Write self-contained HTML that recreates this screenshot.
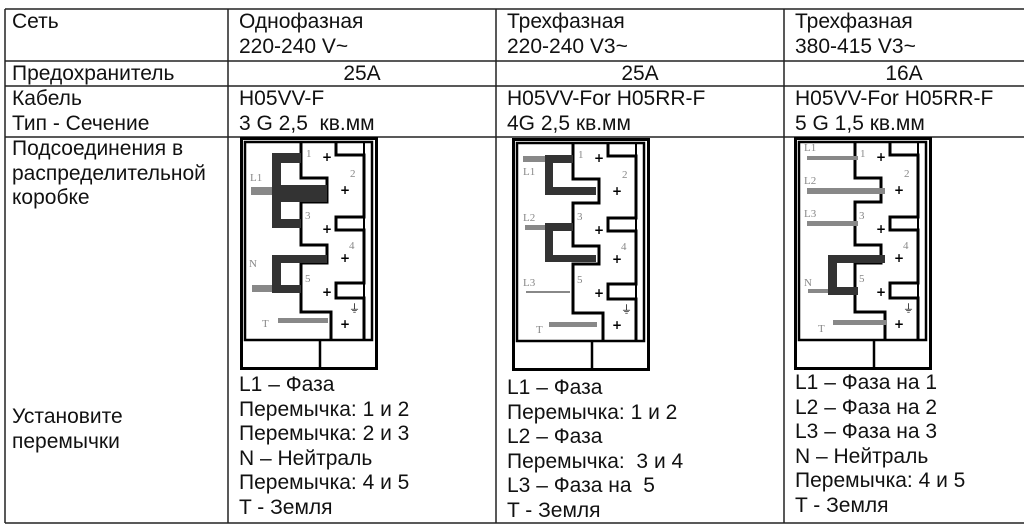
<!DOCTYPE html>
<html><head><meta charset="utf-8"><style>
body{margin:0;width:1024px;height:531px;background:#fff;position:relative;overflow:hidden;font-family:"Liberation Sans",Arial,sans-serif;font-size:21px;color:#111}
.t{position:absolute;line-height:24.5px;white-space:pre}
svg{position:absolute;left:0;top:0}
.lb{font-family:"Liberation Serif",serif;font-size:11px;fill:#888}
</style></head><body>
<svg width="1024" height="531">
<defs>
<g id="box">
<rect x="1.5" y="1.5" width="135" height="230" fill="#fff" stroke="#000" stroke-width="3"/>
<rect x="5" y="5" width="127" height="198" fill="none" stroke="#000" stroke-width="2.5"/>
<line x1="124" y1="5" x2="124" y2="203" stroke="#000" stroke-width="2"/>
<line x1="80" y1="203" x2="80" y2="231" stroke="#000" stroke-width="2.5"/>
<polyline points="61,5 61,41 87,41 87,65 61,65 61,108 87,108 87,126 61,126 61,175 91,175 91,203" fill="none" stroke="#000" stroke-width="3"/>
<polyline points="96,5 96,18 124,18 124,80 96,80 96,93 124,93 124,146 96,146 96,161 124,161 124,203" fill="none" stroke="#000" stroke-width="3"/>
<text class="lb" x="66" y="20">1</text><text class="lb" x="110" y="40">2</text>
<text class="lb" x="65" y="82">3</text><text class="lb" x="109" y="112">4</text><text class="lb" x="65" y="145">5</text>
<text x="82" y="24" font-size="12" font-weight="bold" font-family="DejaVu Sans">+</text>
<text x="100" y="57" font-size="12" font-weight="bold" font-family="DejaVu Sans">+</text>
<text x="82" y="96" font-size="12" font-weight="bold" font-family="DejaVu Sans">+</text>
<text x="100" y="125" font-size="12" font-weight="bold" font-family="DejaVu Sans">+</text>
<text x="82" y="159" font-size="12" font-weight="bold" font-family="DejaVu Sans">+</text>
<text x="109" y="175" font-size="11" font-family="DejaVu Sans">⏚</text>
<text x="100" y="191" font-size="12" font-weight="bold" font-family="DejaVu Sans">+</text>
</g>
</defs>
<g stroke="#222" stroke-width="1.5">
<line x1="5" y1="9" x2="1024" y2="9"/>
<line x1="5" y1="61" x2="1024" y2="61"/>
<line x1="5" y1="86" x2="1024" y2="86"/>
<line x1="5" y1="137" x2="1024" y2="137"/>
<line x1="5" y1="523" x2="1024" y2="523"/>
<line x1="5" y1="9" x2="5" y2="523"/>
<line x1="228" y1="9" x2="228" y2="523"/>
<line x1="496" y1="9" x2="496" y2="523"/>
<line x1="784" y1="9" x2="784" y2="523"/>
</g>
<g transform="translate(240,137)">
<use href="#box"/>
<g fill="#333">
<rect x="32" y="16" width="9" height="75"/><rect x="32" y="16" width="29" height="10"/>
<rect x="32" y="48" width="55" height="17"/><rect x="32" y="82" width="29" height="9"/>
<rect x="32" y="118" width="9" height="38"/><rect x="32" y="118" width="55" height="8"/><rect x="32" y="148" width="29" height="8"/>
</g>
<g fill="#888">
<rect x="11" y="50" width="21" height="8"/><rect x="12" y="148" width="20" height="7"/><rect x="38" y="181" width="50" height="5"/>
</g>
<text class="lb" x="10" y="44">L1</text><text class="lb" x="9" y="130">N</text><text class="lb" x="22" y="190">T</text>
</g>
<g transform="translate(512,138)">
<use href="#box"/>
<g fill="#333">
<rect x="33" y="17" width="8" height="40"/><rect x="33" y="17" width="28" height="8"/><rect x="33" y="49" width="51" height="8"/>
<rect x="33" y="85" width="8" height="39"/><rect x="33" y="85" width="28" height="8"/><rect x="33" y="117" width="51" height="7"/>
</g>
<g fill="#888">
<rect x="11" y="18" width="22" height="6"/><rect x="13" y="87" width="20" height="5"/><rect x="14" y="153" width="44" height="2"/><rect x="37" y="184" width="48" height="5"/>
</g>
<text class="lb" x="11" y="37">L1</text><text class="lb" x="11" y="83">L2</text><text class="lb" x="11" y="148">L3</text><text class="lb" x="24" y="195">T</text>
</g>
<g transform="translate(794,137)">
<use href="#box"/>
<g fill="#333">
<rect x="34" y="118" width="9" height="40"/><rect x="34" y="118" width="57" height="8"/><rect x="34" y="150" width="30" height="8"/>
</g>
<g fill="#888">
<rect x="13" y="19" width="51" height="4"/><rect x="13" y="51" width="78" height="6"/><rect x="13" y="84" width="51" height="5"/><rect x="14" y="152" width="20" height="4"/><rect x="39" y="183" width="54" height="5"/>
</g>
<text class="lb" x="10" y="14">L1</text><text class="lb" x="10" y="47">L2</text><text class="lb" x="10" y="80">L3</text><text class="lb" x="10" y="149">N</text><text class="lb" x="24" y="195">T</text>
</g>
</svg>
<div class="t" style="left:12px;top:10px">Сеть</div>
<div class="t" style="left:239px;top:10px">Однофазная
220-240 V~</div>
<div class="t" style="left:507px;top:10px">Трехфазная
220-240 V3~</div>
<div class="t" style="left:795px;top:10px">Трехфазная
380-415 V3~</div>
<div class="t" style="left:12px;top:62px">Предохранитель</div>
<div class="t" style="left:228px;width:268px;text-align:center;top:62px">25A</div>
<div class="t" style="left:496px;width:288px;text-align:center;top:62px">25A</div>
<div class="t" style="left:784px;width:240px;text-align:center;top:62px">16A</div>
<div class="t" style="left:12px;top:87px">Кабель
Тип - Сечение</div>
<div class="t" style="left:239px;top:87px">H05VV-F
3 G 2,5  кв.мм</div>
<div class="t" style="left:507px;top:87px">H05VV-For H05RR-F
4G 2,5 кв.мм</div>
<div class="t" style="left:795px;top:87px">H05VV-For H05RR-F
5 G 1,5 кв.мм</div>
<div class="t" style="left:12px;top:137px">Подсоединения в
распределительной
коробке</div>
<div class="t" style="left:12px;top:405px">Установите
перемычки</div>
<div class="t" style="left:239px;top:373px">L1 – Фаза
Перемычка: 1 и 2
Перемычка: 2 и 3
N – Нейтраль
Перемычка: 4 и 5
T - Земля</div>
<div class="t" style="left:507px;top:376px">L1 – Фаза
Перемычка: 1 и 2
L2 – Фаза
Перемычка:  3 и 4
L3 – Фаза на  5
T - Земля</div>
<div class="t" style="left:795px;top:371px">L1 – Фаза на 1
L2 – Фаза на 2
L3 – Фаза на 3
N – Нейтраль
Перемычка: 4 и 5
T - Земля</div>
</body></html>
